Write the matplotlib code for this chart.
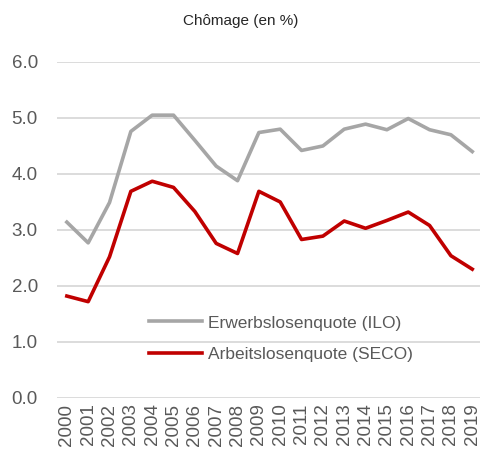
import numpy as np
import matplotlib
matplotlib.use("Agg")
from matplotlib import pyplot as plt

plt.rcParams['font.family'] = ['Liberation Sans', 'DejaVu Sans']

years = [str(y) for y in range(2000, 2020)]
ilo = [3.14, 2.77, 3.49, 4.76, 5.05, 5.05, 4.6, 4.14, 3.88, 4.74,
       4.8, 4.42, 4.5, 4.8, 4.89, 4.79, 4.99, 4.79, 4.7, 4.4]
seco = [1.82, 1.72, 2.52, 3.69, 3.87, 3.76, 3.33, 2.76, 2.58, 3.69,
        3.5, 2.83, 2.89, 3.16, 3.03, 3.17, 3.32, 3.08, 2.54, 2.3]

fig = plt.figure(figsize=(4.81, 4.5), dpi=100)
ax = fig.add_axes([0.119, 0.1156, 0.885, 0.7467])

x = np.arange(len(years))
ax.plot(x, ilo, color='#A6A6A6', lw=2.6, label='Erwerbslosenquote (ILO)', solid_joinstyle='round')
ax.plot(x, seco, color='#C00000', lw=2.6, label='Arbeitslosenquote (SECO)', solid_joinstyle='round')

ax.set_ylim(0, 6.0)
ax.set_xlim(-0.45, 19.5)
ax.set_yticks(np.arange(0, 6.1, 1.0))
ax.set_yticklabels([f'{v:.1f}' for v in np.arange(0, 6.1, 1.0)])
ax.set_xticks(x)
ax.set_xticklabels(years, rotation=90)
ax.grid(axis='y', color='#D9D9D9', lw=1.3)
ax.set_axisbelow(True)
for s in ax.spines.values():
    s.set_visible(False)
ax.tick_params(axis='both', length=0, colors='#595959')
ax.tick_params(axis='y', labelsize=13.5, pad=14)
ax.tick_params(axis='x', labelsize=13.5, pad=4)

ax.legend(loc='lower left', bbox_to_anchor=(0.18, 0.06), frameon=False,
          fontsize=12.5, handlelength=3.0, handletextpad=0.35, labelcolor='#595959',
          labelspacing=0.95)

fig.text(0.5, 0.953, 'Chômage (en %)', ha='center', va='center', fontsize=11, color='#262626')

fig.savefig('out.png', dpi=100)
